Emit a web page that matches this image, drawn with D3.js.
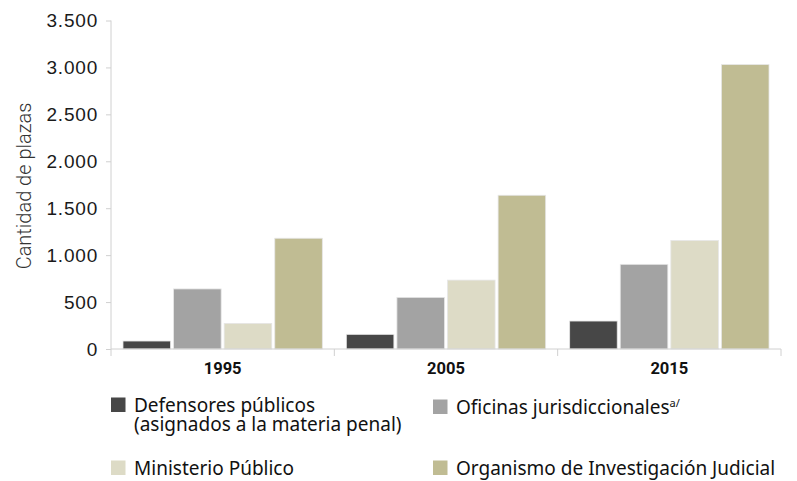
<!DOCTYPE html>
<html>
<head>
<meta charset="utf-8">
<script src="https://cdn.jsdelivr.net/npm/d3@7"></script>
<style>
  body { margin: 0; background: #fff; }
  svg { display: block; }
  .tick text { font-family: "Liberation Sans", Arial, sans-serif; }
</style>
</head>
<body>
<svg id="chart" width="797" height="481"></svg>
<script>
// data
const years = ["1995", "2005", "2015"];
const series = ["Defensores públicos", "Oficinas jurisdiccionales", "Ministerio Público", "Organismo de Investigación Judicial"];
const defensores = [85, 156, 298];
const oficinas = [640, 550, 902];
const ministerio = [273, 734, 1156];
const oij = [1180, 1638, 3030];
const yTicks = [0, 500, 1000, 1500, 2000, 2500, 3000, 3500];
const colors = ["#474747", "#a3a3a3", "#dddbc6", "#c0bc93"];

const values = [defensores, oficinas, ministerio, oij];

const svg = d3.select("#chart");
const mLeft = 111, mRight = 781, mTop = 20.5, mBottom = 349;

const locale = d3.formatLocale({ decimal: ",", thousands: ".", grouping: [3], currency: ["", ""] });
const fmt = locale.format(",d");

const x = d3.scaleBand().domain(years).range([mLeft, mRight]);
const xSub = d3.scaleBand().domain(d3.range(series.length))
  .range([12, x.bandwidth() - 12]).paddingInner(0.06);
const y = d3.scaleLinear().domain([0, 3500]).range([mBottom, mTop]);

// bars
const groups = svg.append("g").selectAll("g")
  .data(years)
  .join("g")
  .attr("transform", d => "translate(" + x(d) + ",0)");

groups.selectAll("rect")
  .data((d, i) => values.map((s, k) => ({ k: k, v: s[i] })))
  .join("rect")
  .attr("x", d => xSub(d.k))
  .attr("width", xSub.bandwidth())
  .attr("y", d => y(d.v))
  .attr("height", d => y(0) - y(d.v))
  .attr("fill", d => colors[d.k])
  .attr("stroke", "#e6e6e6")
  .attr("stroke-width", 0.8);

// Y axis
const yAxis = svg.append("g")
  .attr("transform", "translate(" + mLeft + ",0)")
  .call(d3.axisLeft(y).tickValues(yTicks).tickFormat(fmt).tickSize(5).tickPadding(8));
yAxis.select(".domain").attr("stroke", "#d0d0d0").attr("d", "M0," + mTop + "V" + mBottom);
yAxis.selectAll(".tick line").attr("stroke", "#d0d0d0");
yAxis.selectAll(".tick text")
  .attr("font-size", 19)
  .attr("letter-spacing", 0.8)
  .attr("fill", "#1a1a1a");

// X axis
const xAxis = svg.append("g").attr("transform", "translate(0," + mBottom + ")");
xAxis.append("line").attr("x1", mLeft).attr("x2", mRight).attr("stroke", "#d0d0d0");
xAxis.selectAll("line.sep")
  .data(years.map(d => x(d)).concat([mRight]))
  .join("line")
  .attr("class", "sep")
  .attr("x1", d => d).attr("x2", d => d)
  .attr("y1", 0).attr("y2", 7)
  .attr("stroke", "#d0d0d0");
xAxis.selectAll("text")
  .data(years)
  .join("text")
  .attr("x", d => x(d) + x.bandwidth() / 2)
  .attr("y", 25)
  .attr("text-anchor", "middle")
  .attr("font-family", "Roboto, sans-serif")
  .attr("font-weight", "bold")
  .attr("font-size", 16.5)
  .attr("fill", "#111")
  .text(d => d);

// Y label
svg.append("text")
  .attr("transform", "translate(31,186) rotate(-90)")
  .attr("text-anchor", "middle")
  .attr("font-family", "Roboto, sans-serif")
  .attr("font-weight", 300)
  .attr("font-size", 20)
  .attr("fill", "#333")
  .text("Cantidad de plazas");

// legend
const legendPos = [[111, 412], [433, 414], [111, 475], [433, 475]];
const legend = svg.append("g").selectAll("g")
  .data(series)
  .join("g")
  .attr("transform", (d, i) => "translate(" + legendPos[i][0] + "," + legendPos[i][1] + ")");
legend.append("rect")
  .attr("x", 0).attr("y", -14.5)
  .attr("width", 14.5).attr("height", 14.5)
  .attr("fill", (d, i) => colors[i]);
const lt = legend.append("text")
  .attr("x", 23)
  .attr("font-family", "'Noto Sans', sans-serif")
  .attr("font-size", 19)
  .attr("fill", "#111");
lt.each(function (d, i) {
  const t = d3.select(this);
  t.append("tspan").text(d);
  if (i === 0) {
    t.append("tspan").attr("x", 23).attr("dy", 19).text("(asignados a la materia penal)");
  }
  if (i === 1) {
    t.append("tspan").attr("font-size", 11).attr("dy", -7).text("a/");
  }
});
</script>
</body>
</html>
